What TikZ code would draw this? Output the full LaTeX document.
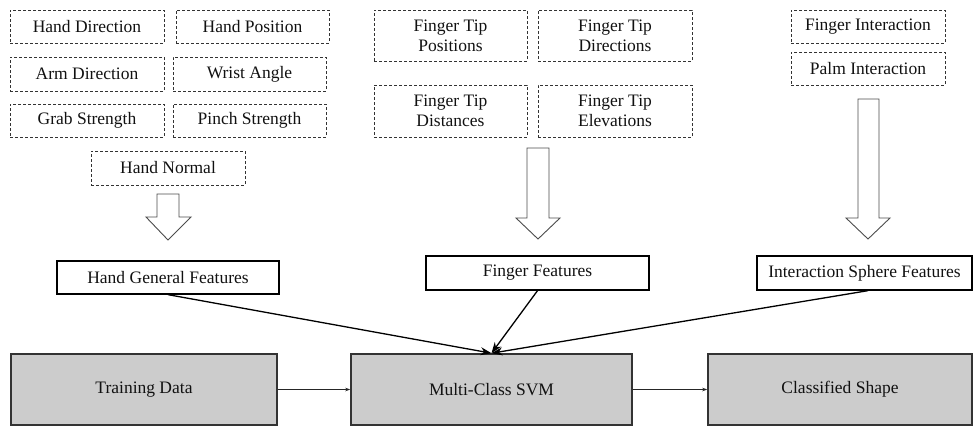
\documentclass[tikz,border=0pt]{standalone}
\usepackage{fontspec}
\setmainfont{Liberation Serif}
\usetikzlibrary{arrows.meta}
\definecolor{boxgray}{HTML}{CCCCCC}
\definecolor{edgegray}{HTML}{333333}
\definecolor{txt}{HTML}{111111}
\begin{document}
\begin{tikzpicture}[x=1pt,y=-1pt,
  every node/.style={font=\fontsize{17.5}{20}\selectfont, text=txt, inner sep=0pt, align=center},
  dbox/.style={draw=edgegray, line width=0.8pt, dash pattern=on 3pt off 2pt},
  fbox/.style={draw=black, line width=1.3pt},
  gbox/.style={draw=edgegray, fill=boxgray, line width=1.6pt},
  hollow/.style={draw=black!70, line width=0.9pt, fill=white, line join=miter},
  feed/.style={line width=1.3pt, draw=black, -{Stealth[length=11pt,width=8pt]}},
  flow/.style={line width=0.7pt, draw=black!85, -{Stealth[length=5pt,width=3.5pt]}}
]
\useasboundingbox (0,0) rectangle (973,426);

% hand feature group
\node[dbox, minimum width=154, minimum height=33] (hdir)  at (87,26.5)    {Hand Direction};
\node[dbox, minimum width=153, minimum height=33] (hpos)  at (252.5,26.5) {Hand Position};
\node[dbox, minimum width=154, minimum height=34] (adir)  at (87,74)      {Arm Direction};
\node[dbox, minimum width=153, minimum height=34] (wrist) at (249.5,74)   {Wrist Angle};
\node[dbox, minimum width=154, minimum height=33] (grab)  at (87,120.5)   {Grab Strength};
\node[dbox, minimum width=153, minimum height=33] (pinch) at (249.5,120.5){Pinch Strength};
\node[dbox, minimum width=154, minimum height=34] (hnorm) at (168,168)    {Hand Normal};

% finger feature group
\node[dbox, minimum width=153, minimum height=51] (ftpos)  at (450.5,35.5) {Finger Tip\\Positions};
\node[dbox, minimum width=154, minimum height=51] (ftdir)  at (615,35.5)   {Finger Tip\\Directions};
\node[dbox, minimum width=153, minimum height=52] (ftdist) at (450.5,111)  {Finger Tip\\Distances};
\node[dbox, minimum width=154, minimum height=52] (ftelev) at (615,111)    {Finger Tip\\Elevations};

% interaction feature group
\node[dbox, minimum width=154, minimum height=33] (finter) at (868,26.5) {Finger Interaction};
\node[dbox, minimum width=154, minimum height=33] (pinter) at (868,68.5) {Palm Interaction};

% hollow block arrows
\draw[hollow] (157,194) -- (179,194) -- (179,217) -- (191,217) -- (168,240)
  -- (146,217) -- (157,217) -- cycle;
\draw[hollow] (527,148) -- (549,148) -- (549,218) -- (560,218) -- (538,239)
  -- (516,218) -- (527,218) -- cycle;
\draw[hollow] (858,99) -- (879,99) -- (879,218) -- (890,218) -- (868,239)
  -- (846,218) -- (858,218) -- cycle;

% feature summaries
\node[fbox, minimum width=222, minimum height=33] (hgf) at (168,277.5)   {Hand General Features};
\node[fbox, minimum width=223, minimum height=34] (ff)  at (537.5,273)   {Finger Features};
\node[fbox, minimum width=215, minimum height=34] (isf) at (864.5,273)   {Interaction Sphere Features};

% pipeline
\node[gbox, minimum width=266, minimum height=71] (train) at (144,389.5)   {Training Data};
\node[gbox, minimum width=281, minimum height=71] (svm)   at (491.5,389.5) {Multi-Class SVM};
\node[gbox, minimum width=264, minimum height=71] (cls)   at (840,389.5)   {Classified Shape};

\coordinate (in) at (svm.north);
\draw[feed] (hgf.south) -- (in);
\draw[feed] (ff.south) -- (in);
\draw[feed] ([xshift=3.5pt]isf.south) -- (in);

\draw[flow] (train) -- (svm);
\draw[flow] (svm) -- (cls);
\end{tikzpicture}
\end{document}
